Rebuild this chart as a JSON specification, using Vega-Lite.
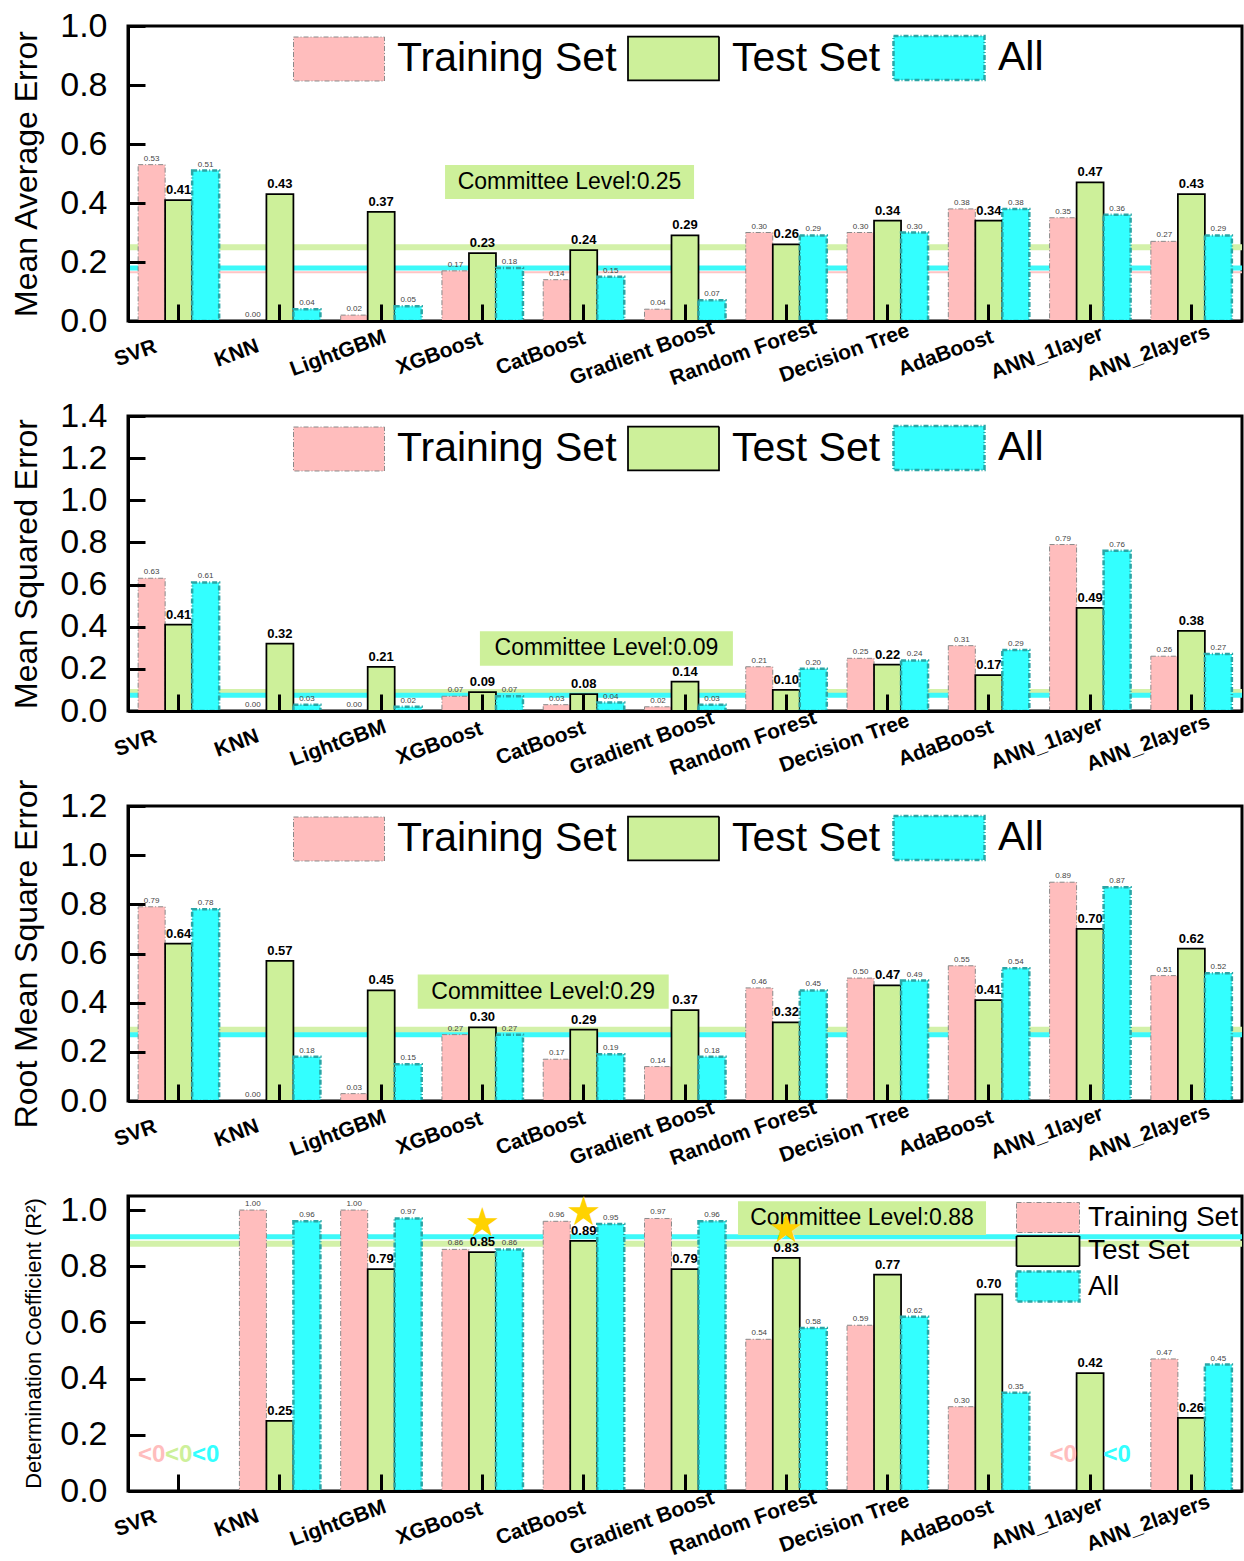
{
  "$schema": "https://vega.github.io/schema/vega-lite/v6.json",
  "padding": {"left": 8, "top": 7, "right": 2, "bottom": 0},
  "config": {
    "font": "Liberation Sans",
    "view": {"stroke": "black", "strokeWidth": 3}
  },
  "datasets": {
    "scores": [
      {"metric": "MAE", "model": "SVR", "Training Set": 0.53, "Test Set": 0.41, "All": 0.51},
      {"metric": "MAE", "model": "KNN", "Training Set": 0.00, "Test Set": 0.43, "All": 0.04},
      {"metric": "MAE", "model": "LightGBM", "Training Set": 0.02, "Test Set": 0.37, "All": 0.05},
      {"metric": "MAE", "model": "XGBoost", "Training Set": 0.17, "Test Set": 0.23, "All": 0.18},
      {"metric": "MAE", "model": "CatBoost", "Training Set": 0.14, "Test Set": 0.24, "All": 0.15},
      {"metric": "MAE", "model": "Gradient Boost", "Training Set": 0.04, "Test Set": 0.29, "All": 0.07},
      {"metric": "MAE", "model": "Random Forest", "Training Set": 0.30, "Test Set": 0.26, "All": 0.29},
      {"metric": "MAE", "model": "Decision Tree", "Training Set": 0.30, "Test Set": 0.34, "All": 0.30},
      {"metric": "MAE", "model": "AdaBoost", "Training Set": 0.38, "Test Set": 0.34, "All": 0.38},
      {"metric": "MAE", "model": "ANN_1layer", "Training Set": 0.35, "Test Set": 0.47, "All": 0.36},
      {"metric": "MAE", "model": "ANN_2layers", "Training Set": 0.27, "Test Set": 0.43, "All": 0.29},
      {"metric": "MSE", "model": "SVR", "Training Set": 0.63, "Test Set": 0.41, "All": 0.61},
      {"metric": "MSE", "model": "KNN", "Training Set": 0.00, "Test Set": 0.32, "All": 0.03},
      {"metric": "MSE", "model": "LightGBM", "Training Set": 0.00, "Test Set": 0.21, "All": 0.02},
      {"metric": "MSE", "model": "XGBoost", "Training Set": 0.07, "Test Set": 0.09, "All": 0.07},
      {"metric": "MSE", "model": "CatBoost", "Training Set": 0.03, "Test Set": 0.08, "All": 0.04},
      {"metric": "MSE", "model": "Gradient Boost", "Training Set": 0.02, "Test Set": 0.14, "All": 0.03},
      {"metric": "MSE", "model": "Random Forest", "Training Set": 0.21, "Test Set": 0.10, "All": 0.20},
      {"metric": "MSE", "model": "Decision Tree", "Training Set": 0.25, "Test Set": 0.22, "All": 0.24},
      {"metric": "MSE", "model": "AdaBoost", "Training Set": 0.31, "Test Set": 0.17, "All": 0.29},
      {"metric": "MSE", "model": "ANN_1layer", "Training Set": 0.79, "Test Set": 0.49, "All": 0.76},
      {"metric": "MSE", "model": "ANN_2layers", "Training Set": 0.26, "Test Set": 0.38, "All": 0.27},
      {"metric": "RMSE", "model": "SVR", "Training Set": 0.79, "Test Set": 0.64, "All": 0.78},
      {"metric": "RMSE", "model": "KNN", "Training Set": 0.00, "Test Set": 0.57, "All": 0.18},
      {"metric": "RMSE", "model": "LightGBM", "Training Set": 0.03, "Test Set": 0.45, "All": 0.15},
      {"metric": "RMSE", "model": "XGBoost", "Training Set": 0.27, "Test Set": 0.30, "All": 0.27},
      {"metric": "RMSE", "model": "CatBoost", "Training Set": 0.17, "Test Set": 0.29, "All": 0.19},
      {"metric": "RMSE", "model": "Gradient Boost", "Training Set": 0.14, "Test Set": 0.37, "All": 0.18},
      {"metric": "RMSE", "model": "Random Forest", "Training Set": 0.46, "Test Set": 0.32, "All": 0.45},
      {"metric": "RMSE", "model": "Decision Tree", "Training Set": 0.50, "Test Set": 0.47, "All": 0.49},
      {"metric": "RMSE", "model": "AdaBoost", "Training Set": 0.55, "Test Set": 0.41, "All": 0.54},
      {"metric": "RMSE", "model": "ANN_1layer", "Training Set": 0.89, "Test Set": 0.70, "All": 0.87},
      {"metric": "RMSE", "model": "ANN_2layers", "Training Set": 0.51, "Test Set": 0.62, "All": 0.52},
      {"metric": "R2", "model": "SVR", "Training Set": null, "Test Set": null, "All": null},
      {"metric": "R2", "model": "KNN", "Training Set": 1.00, "Test Set": 0.25, "All": 0.96},
      {"metric": "R2", "model": "LightGBM", "Training Set": 1.00, "Test Set": 0.79, "All": 0.97},
      {"metric": "R2", "model": "XGBoost", "Training Set": 0.86, "Test Set": 0.85, "All": 0.86, "star": true},
      {"metric": "R2", "model": "CatBoost", "Training Set": 0.96, "Test Set": 0.89, "All": 0.95, "star": true},
      {"metric": "R2", "model": "Gradient Boost", "Training Set": 0.97, "Test Set": 0.79, "All": 0.96},
      {"metric": "R2", "model": "Random Forest", "Training Set": 0.54, "Test Set": 0.83, "All": 0.58, "star": true},
      {"metric": "R2", "model": "Decision Tree", "Training Set": 0.59, "Test Set": 0.77, "All": 0.62},
      {"metric": "R2", "model": "AdaBoost", "Training Set": 0.30, "Test Set": 0.70, "All": 0.35},
      {"metric": "R2", "model": "ANN_1layer", "Training Set": null, "Test Set": 0.42, "All": null},
      {"metric": "R2", "model": "ANN_2layers", "Training Set": 0.47, "Test Set": 0.26, "All": 0.45}
    ],
    "committee": [
      {"metric": "MAE", "train": 0.165, "test": 0.25, "all": 0.18},
      {"metric": "MSE", "test": 0.09, "all": 0.075},
      {"metric": "RMSE", "test": 0.29, "all": 0.27},
      {"metric": "R2", "test": 0.88, "all": 0.905}
    ]
  },
  "spacing": 95,
  "bounds": "flush",
  "resolve": {
    "scale": {"x": "independent", "y": "independent", "xOffset": "independent", "color": "independent", "stroke": "independent", "strokeDash": "independent", "strokeWidth": "independent"},
    "legend": {"color": "independent", "stroke": "independent", "strokeDash": "independent", "strokeWidth": "independent"},
    "axis": {"x": "independent", "y": "independent"}
  },
  "vconcat": [
    {
      "width": 1114,
      "height": 295,
      "resolve": {"axis": {"x": "independent", "y": "independent"}},
      "layer": [
        {
          "data": {"name": "committee"},
          "transform": [{"filter": "datum.metric === 'MAE'"}],
          "layer": [
            {"mark": {"type": "rule", "color": "#ffc4c4", "strokeWidth": 2}, "encoding": {"y": {"field": "train", "type": "quantitative", "scale": {"domain": [0, 1], "nice": false}, "axis": {"orient": "left", "values": [0.1, 0.3, 0.5, 0.7, 0.9], "labels": false, "domain": false, "title": null, "grid": false, "tickSize": -8, "tickWidth": 3, "tickColor": "black", "zindex": 1}}}},
            {"mark": {"type": "rule", "color": "#d3f1a9", "strokeWidth": 6}, "encoding": {"y": {"field": "test", "type": "quantitative", "axis": null}}},
            {"mark": {"type": "rule", "color": "#3cf9f9", "strokeWidth": 5}, "encoding": {"y": {"field": "all", "type": "quantitative", "axis": null}}}
          ]
        },
        {
          "data": {"name": "scores"},
          "transform": [
            {"filter": "datum.metric === 'MAE'"},
            {"fold": ["Training Set", "Test Set", "All"], "as": ["set", "value"]}
          ],
          "encoding": {
            "x": {
              "field": "model", "type": "nominal",
              "scale": {"domain": ["SVR", "KNN", "LightGBM", "XGBoost", "CatBoost", "Gradient Boost", "Random Forest", "Decision Tree", "AdaBoost", "ANN_1layer", "ANN_2layers"], "paddingInner": 0.2, "paddingOuter": 0.1},
              "axis": {"orient": "bottom", "title": null, "labelAngle": -20, "labelAlign": "center", "labelBaseline": "middle", "labelFont": "Liberation Sans", "labelFontWeight": "bold", "labelFontSize": 21, "labelColor": "black", "labelOffset": -43, "labelPadding": 49, "labelLimit": 0, "labelOverlap": false, "labelBound": false, "labelFlush": false, "tickSize": -17, "tickWidth": 3, "tickColor": "black", "domainColor": "black", "domainWidth": 3, "zindex": 1}
            },
            "xOffset": {"field": "set", "type": "nominal", "scale": {"domain": ["Training Set", "Test Set", "All"], "paddingInner": 0, "paddingOuter": 0}},
            "y": {
              "field": "value", "type": "quantitative",
              "scale": {"domain": [0, 1], "nice": false},
              "axis": {"orient": "left", "title": "Mean Average Error", "values": [0, 0.2, 0.4, 0.6, 0.8, 1.0], "format": ".1f", "tickSize": -17, "tickWidth": 3, "tickColor": "black", "domainColor": "black", "domainWidth": 3, "labelPadding": 38, "labelFont": "Liberation Sans", "labelFontSize": 34, "labelColor": "black", "labelOverlap": false, "labelFlush": false, "labelBound": false, "titleFont": "Liberation Sans", "titleFontSize": 32, "titleFontWeight": "normal", "titleColor": "black", "titleX": -102, "titleY": 147.5, "titleAngle": 270, "titleAlign": "center", "titleBaseline": "middle", "grid": false, "zindex": 1}
            }
          },
          "layer": [
            {
              "mark": {"type": "bar"},
              "encoding": {
                "color": {"field": "set", "type": "nominal", "scale": {"domain": ["Training Set", "Test Set", "All"], "range": ["#ffbdbd", "#cdf09a", "#33ffff"]},
                  "legend": {"title": null, "orient": "none", "legendX": 165, "legendY": -15, "direction": "horizontal", "symbolType": "M-1,-0.4835H1V0.4835H-1Z", "symbolSize": 8281, "symbolOpacity": 1, "labelFontSize": 41, "labelFont": "Liberation Sans", "labelColor": "black", "labelOffset": 12, "columnPadding": 7, "padding": 0, "labelLimit": 0}},
                "stroke": {"field": "set", "type": "nominal", "scale": {"domain": ["Training Set", "Test Set", "All"], "range": ["#8a8a8a", "#000000", "#2aa6a6"]}},
                "strokeDash": {"field": "set", "type": "nominal", "scale": {"domain": ["Training Set", "Test Set", "All"], "range": [[5, 2, 1, 2], [1, 0], [5, 2, 1, 2]]}},
                "strokeWidth": {"field": "set", "type": "ordinal", "scale": {"domain": ["Training Set", "Test Set", "All"], "range": [1, 2.5, 1]}}
              }
            },
            {
              "transform": [{"filter": "datum.set !== 'Test Set' && isValid(datum.value)"}],
              "mark": {"type": "text", "fontSize": 8, "color": "#444444", "baseline": "bottom", "dy": -2},
              "encoding": {"text": {"field": "value", "type": "quantitative", "format": ".2f"}}
            },
            {
              "transform": [{"filter": "datum.set === 'Test Set' && isValid(datum.value)"}],
              "mark": {"type": "text", "fontSize": 13, "fontWeight": "bold", "color": "black", "baseline": "bottom", "dy": -3},
              "encoding": {"text": {"field": "value", "type": "quantitative", "format": ".2f"}}
            }
          ]
        },
        {
          "data": {"name": "committee"},
          "transform": [
            {"filter": "datum.metric === 'MAE'"},
            {"calculate": "'Committee Level:' + format(datum.test, '.2f')", "as": "label"}
          ],
          "encoding": {
            "x": {"datum": "CatBoost", "type": "nominal", "bandPosition": 0.325, "axis": null},
            "y": {"datum": 0.471, "type": "quantitative", "axis": null}
          },
          "layer": [
            {"mark": {"type": "point", "shape": "M-1,-0.1365H1V0.1365H-1Z", "size": 62001, "filled": true, "color": "#cdf09a", "opacity": 1, "strokeWidth": 0}},
            {"mark": {"type": "text", "fontSize": 23, "color": "black", "align": "center", "baseline": "middle"}, "encoding": {"text": {"field": "label"}}}
          ]
        }
      ]
    },
    {
      "width": 1114,
      "height": 295,
      "resolve": {"axis": {"x": "independent", "y": "independent"}},
      "layer": [
        {
          "data": {"name": "committee"},
          "transform": [{"filter": "datum.metric === 'MSE'"}],
          "layer": [
            {"mark": {"type": "rule", "color": "#d3f1a9", "strokeWidth": 6}, "encoding": {"y": {"field": "test", "type": "quantitative", "scale": {"domain": [0, 1.4], "nice": false}, "axis": {"orient": "left", "values": [0.1, 0.3, 0.5, 0.7, 0.9, 1.1, 1.3], "labels": false, "domain": false, "title": null, "grid": false, "tickSize": -8, "tickWidth": 3, "tickColor": "black", "zindex": 1}}}},
            {"mark": {"type": "rule", "color": "#3cf9f9", "strokeWidth": 5}, "encoding": {"y": {"field": "all", "type": "quantitative", "axis": null}}}
          ]
        },
        {
          "data": {"name": "scores"},
          "transform": [
            {"filter": "datum.metric === 'MSE'"},
            {"fold": ["Training Set", "Test Set", "All"], "as": ["set", "value"]}
          ],
          "encoding": {
            "x": {
              "field": "model", "type": "nominal",
              "scale": {"domain": ["SVR", "KNN", "LightGBM", "XGBoost", "CatBoost", "Gradient Boost", "Random Forest", "Decision Tree", "AdaBoost", "ANN_1layer", "ANN_2layers"], "paddingInner": 0.2, "paddingOuter": 0.1},
              "axis": {"orient": "bottom", "title": null, "labelAngle": -20, "labelAlign": "center", "labelBaseline": "middle", "labelFont": "Liberation Sans", "labelFontWeight": "bold", "labelFontSize": 21, "labelColor": "black", "labelOffset": -43, "labelPadding": 49, "labelLimit": 0, "labelOverlap": false, "labelBound": false, "labelFlush": false, "tickSize": -17, "tickWidth": 3, "tickColor": "black", "domainColor": "black", "domainWidth": 3, "zindex": 1}
            },
            "xOffset": {"field": "set", "type": "nominal", "scale": {"domain": ["Training Set", "Test Set", "All"], "paddingInner": 0, "paddingOuter": 0}},
            "y": {
              "field": "value", "type": "quantitative",
              "scale": {"domain": [0, 1.4], "nice": false},
              "axis": {"orient": "left", "title": "Mean Squared Error", "values": [0, 0.2, 0.4, 0.6, 0.8, 1.0, 1.2, 1.4], "format": ".1f", "tickSize": -17, "tickWidth": 3, "tickColor": "black", "domainColor": "black", "domainWidth": 3, "labelPadding": 38, "labelFont": "Liberation Sans", "labelFontSize": 34, "labelColor": "black", "labelOverlap": false, "labelFlush": false, "labelBound": false, "titleFont": "Liberation Sans", "titleFontSize": 32, "titleFontWeight": "normal", "titleColor": "black", "titleX": -102, "titleY": 147.5, "titleAngle": 270, "titleAlign": "center", "titleBaseline": "middle", "grid": false, "zindex": 1}
            }
          },
          "layer": [
            {
              "mark": {"type": "bar"},
              "encoding": {
                "color": {"field": "set", "type": "nominal", "scale": {"domain": ["Training Set", "Test Set", "All"], "range": ["#ffbdbd", "#cdf09a", "#33ffff"]},
                  "legend": {"title": null, "orient": "none", "legendX": 165, "legendY": -15, "direction": "horizontal", "symbolType": "M-1,-0.4835H1V0.4835H-1Z", "symbolSize": 8281, "symbolOpacity": 1, "labelFontSize": 41, "labelFont": "Liberation Sans", "labelColor": "black", "labelOffset": 12, "columnPadding": 7, "padding": 0, "labelLimit": 0}},
                "stroke": {"field": "set", "type": "nominal", "scale": {"domain": ["Training Set", "Test Set", "All"], "range": ["#8a8a8a", "#000000", "#2aa6a6"]}},
                "strokeDash": {"field": "set", "type": "nominal", "scale": {"domain": ["Training Set", "Test Set", "All"], "range": [[5, 2, 1, 2], [1, 0], [5, 2, 1, 2]]}},
                "strokeWidth": {"field": "set", "type": "ordinal", "scale": {"domain": ["Training Set", "Test Set", "All"], "range": [1, 2.5, 1]}}
              }
            },
            {
              "transform": [{"filter": "datum.set !== 'Test Set' && isValid(datum.value)"}],
              "mark": {"type": "text", "fontSize": 8, "color": "#444444", "baseline": "bottom", "dy": -2},
              "encoding": {"text": {"field": "value", "type": "quantitative", "format": ".2f"}}
            },
            {
              "transform": [{"filter": "datum.set === 'Test Set' && isValid(datum.value)"}],
              "mark": {"type": "text", "fontSize": 13, "fontWeight": "bold", "color": "black", "baseline": "bottom", "dy": -3},
              "encoding": {"text": {"field": "value", "type": "quantitative", "format": ".2f"}}
            }
          ]
        },
        {
          "data": {"name": "committee"},
          "transform": [
            {"filter": "datum.metric === 'MSE'"},
            {"calculate": "'Committee Level:' + format(datum.test, '.2f')", "as": "label"}
          ],
          "encoding": {
            "x": {"datum": "CatBoost", "type": "nominal", "bandPosition": 0.78, "axis": null},
            "y": {"datum": 0.297, "type": "quantitative", "axis": null}
          },
          "layer": [
            {"mark": {"type": "point", "shape": "M-1,-0.1365H1V0.1365H-1Z", "size": 64009, "filled": true, "color": "#cdf09a", "opacity": 1, "strokeWidth": 0}},
            {"mark": {"type": "text", "fontSize": 23, "color": "black", "align": "center", "baseline": "middle"}, "encoding": {"text": {"field": "label"}}}
          ]
        }
      ]
    },
    {
      "width": 1114,
      "height": 295,
      "resolve": {"axis": {"x": "independent", "y": "independent"}},
      "layer": [
        {
          "data": {"name": "committee"},
          "transform": [{"filter": "datum.metric === 'RMSE'"}],
          "layer": [
            {"mark": {"type": "rule", "color": "#d3f1a9", "strokeWidth": 6}, "encoding": {"y": {"field": "test", "type": "quantitative", "scale": {"domain": [0, 1.2], "nice": false}, "axis": {"orient": "left", "values": [0.1, 0.3, 0.5, 0.7, 0.9, 1.1], "labels": false, "domain": false, "title": null, "grid": false, "tickSize": -8, "tickWidth": 3, "tickColor": "black", "zindex": 1}}}},
            {"mark": {"type": "rule", "color": "#3cf9f9", "strokeWidth": 5}, "encoding": {"y": {"field": "all", "type": "quantitative", "axis": null}}}
          ]
        },
        {
          "data": {"name": "scores"},
          "transform": [
            {"filter": "datum.metric === 'RMSE'"},
            {"fold": ["Training Set", "Test Set", "All"], "as": ["set", "value"]}
          ],
          "encoding": {
            "x": {
              "field": "model", "type": "nominal",
              "scale": {"domain": ["SVR", "KNN", "LightGBM", "XGBoost", "CatBoost", "Gradient Boost", "Random Forest", "Decision Tree", "AdaBoost", "ANN_1layer", "ANN_2layers"], "paddingInner": 0.2, "paddingOuter": 0.1},
              "axis": {"orient": "bottom", "title": null, "labelAngle": -20, "labelAlign": "center", "labelBaseline": "middle", "labelFont": "Liberation Sans", "labelFontWeight": "bold", "labelFontSize": 21, "labelColor": "black", "labelOffset": -43, "labelPadding": 49, "labelLimit": 0, "labelOverlap": false, "labelBound": false, "labelFlush": false, "tickSize": -17, "tickWidth": 3, "tickColor": "black", "domainColor": "black", "domainWidth": 3, "zindex": 1}
            },
            "xOffset": {"field": "set", "type": "nominal", "scale": {"domain": ["Training Set", "Test Set", "All"], "paddingInner": 0, "paddingOuter": 0}},
            "y": {
              "field": "value", "type": "quantitative",
              "scale": {"domain": [0, 1.2], "nice": false},
              "axis": {"orient": "left", "title": "Root Mean Square Error", "values": [0, 0.2, 0.4, 0.6, 0.8, 1.0, 1.2], "format": ".1f", "tickSize": -17, "tickWidth": 3, "tickColor": "black", "domainColor": "black", "domainWidth": 3, "labelPadding": 38, "labelFont": "Liberation Sans", "labelFontSize": 34, "labelColor": "black", "labelOverlap": false, "labelFlush": false, "labelBound": false, "titleFont": "Liberation Sans", "titleFontSize": 32, "titleFontWeight": "normal", "titleColor": "black", "titleX": -102, "titleY": 147.5, "titleAngle": 270, "titleAlign": "center", "titleBaseline": "middle", "grid": false, "zindex": 1}
            }
          },
          "layer": [
            {
              "mark": {"type": "bar"},
              "encoding": {
                "color": {"field": "set", "type": "nominal", "scale": {"domain": ["Training Set", "Test Set", "All"], "range": ["#ffbdbd", "#cdf09a", "#33ffff"]},
                  "legend": {"title": null, "orient": "none", "legendX": 165, "legendY": -15, "direction": "horizontal", "symbolType": "M-1,-0.4835H1V0.4835H-1Z", "symbolSize": 8281, "symbolOpacity": 1, "labelFontSize": 41, "labelFont": "Liberation Sans", "labelColor": "black", "labelOffset": 12, "columnPadding": 7, "padding": 0, "labelLimit": 0}},
                "stroke": {"field": "set", "type": "nominal", "scale": {"domain": ["Training Set", "Test Set", "All"], "range": ["#8a8a8a", "#000000", "#2aa6a6"]}},
                "strokeDash": {"field": "set", "type": "nominal", "scale": {"domain": ["Training Set", "Test Set", "All"], "range": [[5, 2, 1, 2], [1, 0], [5, 2, 1, 2]]}},
                "strokeWidth": {"field": "set", "type": "ordinal", "scale": {"domain": ["Training Set", "Test Set", "All"], "range": [1, 2.5, 1]}}
              }
            },
            {
              "transform": [{"filter": "datum.set !== 'Test Set' && isValid(datum.value)"}],
              "mark": {"type": "text", "fontSize": 8, "color": "#444444", "baseline": "bottom", "dy": -2},
              "encoding": {"text": {"field": "value", "type": "quantitative", "format": ".2f"}}
            },
            {
              "transform": [{"filter": "datum.set === 'Test Set' && isValid(datum.value)"}],
              "mark": {"type": "text", "fontSize": 13, "fontWeight": "bold", "color": "black", "baseline": "bottom", "dy": -3},
              "encoding": {"text": {"field": "value", "type": "quantitative", "format": ".2f"}}
            }
          ]
        },
        {
          "data": {"name": "committee"},
          "transform": [
            {"filter": "datum.metric === 'RMSE'"},
            {"calculate": "'Committee Level:' + format(datum.test, '.2f')", "as": "label"}
          ],
          "encoding": {
            "x": {"datum": "CatBoost", "type": "nominal", "bandPosition": 0.0, "axis": null},
            "y": {"datum": 0.445, "type": "quantitative", "axis": null}
          },
          "layer": [
            {"mark": {"type": "point", "shape": "M-1,-0.1365H1V0.1365H-1Z", "size": 63001, "filled": true, "color": "#cdf09a", "opacity": 1, "strokeWidth": 0}},
            {"mark": {"type": "text", "fontSize": 23, "color": "black", "align": "center", "baseline": "middle"}, "encoding": {"text": {"field": "label"}}}
          ]
        }
      ]
    },
    {
      "width": 1114,
      "height": 295,
      "resolve": {"axis": {"x": "independent", "y": "independent"}},
      "layer": [
        {
          "data": {"name": "committee"},
          "transform": [{"filter": "datum.metric === 'R2'"}],
          "layer": [
            {"mark": {"type": "rule", "color": "#d3f1a9", "strokeWidth": 6}, "encoding": {"y": {"field": "test", "type": "quantitative", "scale": {"domain": [0, 1.05], "nice": false}, "axis": {"orient": "left", "values": [0.1, 0.3, 0.5, 0.7, 0.9], "labels": false, "domain": false, "title": null, "grid": false, "tickSize": -8, "tickWidth": 3, "tickColor": "black", "zindex": 1}}}},
            {"mark": {"type": "rule", "color": "#3cf9f9", "strokeWidth": 5}, "encoding": {"y": {"field": "all", "type": "quantitative", "axis": null}}}
          ]
        },
        {
          "data": {"name": "scores"},
          "transform": [
            {"filter": "datum.metric === 'R2'"},
            {"fold": ["Training Set", "Test Set", "All"], "as": ["set", "value"]}
          ],
          "encoding": {
            "x": {
              "field": "model", "type": "nominal",
              "scale": {"domain": ["SVR", "KNN", "LightGBM", "XGBoost", "CatBoost", "Gradient Boost", "Random Forest", "Decision Tree", "AdaBoost", "ANN_1layer", "ANN_2layers"], "paddingInner": 0.2, "paddingOuter": 0.1},
              "axis": {"orient": "bottom", "title": null, "labelAngle": -20, "labelAlign": "center", "labelBaseline": "middle", "labelFont": "Liberation Sans", "labelFontWeight": "bold", "labelFontSize": 21, "labelColor": "black", "labelOffset": -43, "labelPadding": 49, "labelLimit": 0, "labelOverlap": false, "labelBound": false, "labelFlush": false, "tickSize": -17, "tickWidth": 3, "tickColor": "black", "domainColor": "black", "domainWidth": 3, "zindex": 1}
            },
            "xOffset": {"field": "set", "type": "nominal", "scale": {"domain": ["Training Set", "Test Set", "All"], "paddingInner": 0, "paddingOuter": 0}},
            "y": {
              "field": "value", "type": "quantitative",
              "scale": {"domain": [0, 1.05], "nice": false},
              "axis": {"orient": "left", "title": "Determination Coefficient (R²)", "values": [0, 0.2, 0.4, 0.6, 0.8, 1.0], "format": ".1f", "tickSize": -17, "tickWidth": 3, "tickColor": "black", "domainColor": "black", "domainWidth": 3, "labelPadding": 38, "labelFont": "Liberation Sans", "labelFontSize": 34, "labelColor": "black", "labelOverlap": false, "labelFlush": false, "labelBound": false, "titleFont": "Liberation Sans", "titleFontSize": 22, "titleFontWeight": "normal", "titleColor": "black", "titleX": -95, "titleY": 147, "titleAngle": 270, "titleAlign": "center", "titleBaseline": "middle", "grid": false, "zindex": 1}
            }
          },
          "layer": [
            {
              "mark": {"type": "bar"},
              "encoding": {
                "color": {"field": "set", "type": "nominal", "scale": {"domain": ["Training Set", "Test Set", "All"], "range": ["#ffbdbd", "#cdf09a", "#33ffff"]},
                  "legend": {"title": null, "orient": "none", "legendX": 887, "legendY": 6, "direction": "vertical", "symbolType": "M-1,-1H3.2V1H-1Z", "symbolSize": 900, "symbolOpacity": 1, "labelFontSize": 28, "labelFont": "Liberation Sans", "labelColor": "black", "labelOffset": 40, "rowPadding": -6, "padding": 0, "labelLimit": 0}},
                "stroke": {"field": "set", "type": "nominal", "scale": {"domain": ["Training Set", "Test Set", "All"], "range": ["#8a8a8a", "#000000", "#2aa6a6"]}},
                "strokeDash": {"field": "set", "type": "nominal", "scale": {"domain": ["Training Set", "Test Set", "All"], "range": [[5, 2, 1, 2], [1, 0], [5, 2, 1, 2]]}},
                "strokeWidth": {"field": "set", "type": "ordinal", "scale": {"domain": ["Training Set", "Test Set", "All"], "range": [1, 2.5, 1]}}
              }
            },
            {
              "transform": [{"filter": "datum.set !== 'Test Set' && isValid(datum.value)"}],
              "mark": {"type": "text", "fontSize": 8, "color": "#444444", "baseline": "bottom", "dy": -2},
              "encoding": {"text": {"field": "value", "type": "quantitative", "format": ".2f"}}
            },
            {
              "transform": [{"filter": "datum.set === 'Test Set' && isValid(datum.value)"}],
              "mark": {"type": "text", "fontSize": 13, "fontWeight": "bold", "color": "black", "baseline": "bottom", "dy": -3},
              "encoding": {"text": {"field": "value", "type": "quantitative", "format": ".2f"}}
            }
          ]
        },
        {
          "data": {"name": "committee"},
          "transform": [
            {"filter": "datum.metric === 'R2'"},
            {"calculate": "'Committee Level:' + format(datum.test, '.2f')", "as": "label"}
          ],
          "encoding": {
            "x": {"datum": "Decision Tree", "type": "nominal", "bandPosition": 0.185, "axis": null},
            "y": {"datum": 0.971, "type": "quantitative", "axis": null}
          },
          "layer": [
            {"mark": {"type": "point", "shape": "M-1,-0.1365H1V0.1365H-1Z", "size": 61504, "filled": true, "color": "#cdf09a", "opacity": 1, "strokeWidth": 0}},
            {"mark": {"type": "text", "fontSize": 23, "color": "black", "align": "center", "baseline": "middle"}, "encoding": {"text": {"field": "label"}}}
          ]
        },
        {
          "data": {"name": "scores"},
          "transform": [
            {"filter": "datum.metric === 'R2'"},
            {"fold": ["Training Set", "Test Set", "All"], "as": ["set", "value"]}
          ],
          "encoding": {
            "x": {"field": "model", "type": "nominal", "axis": null},
            "xOffset": {"field": "set", "type": "nominal"}
          },
          "layer": [
            {
              "transform": [{"filter": "!isValid(datum.value)"}],
              "mark": {"type": "text", "text": "<0", "fontSize": 24, "fontWeight": "bold", "baseline": "middle", "dy": -36},
              "encoding": {
                "y": {"datum": 0, "type": "quantitative", "axis": null},
                "color": {"field": "set", "type": "nominal", "legend": null}
              }
            },
            {
              "transform": [{"filter": "datum.star === true && datum.set === 'Test Set'"}],
              "mark": {"type": "text", "text": "★", "font": "DejaVu Sans", "fontSize": 40, "color": "#ffd200", "baseline": "middle", "dy": -28},
              "encoding": {
                "y": {"field": "value", "type": "quantitative", "axis": null}
              }
            }
          ]
        }
      ]
    }
  ]
}
